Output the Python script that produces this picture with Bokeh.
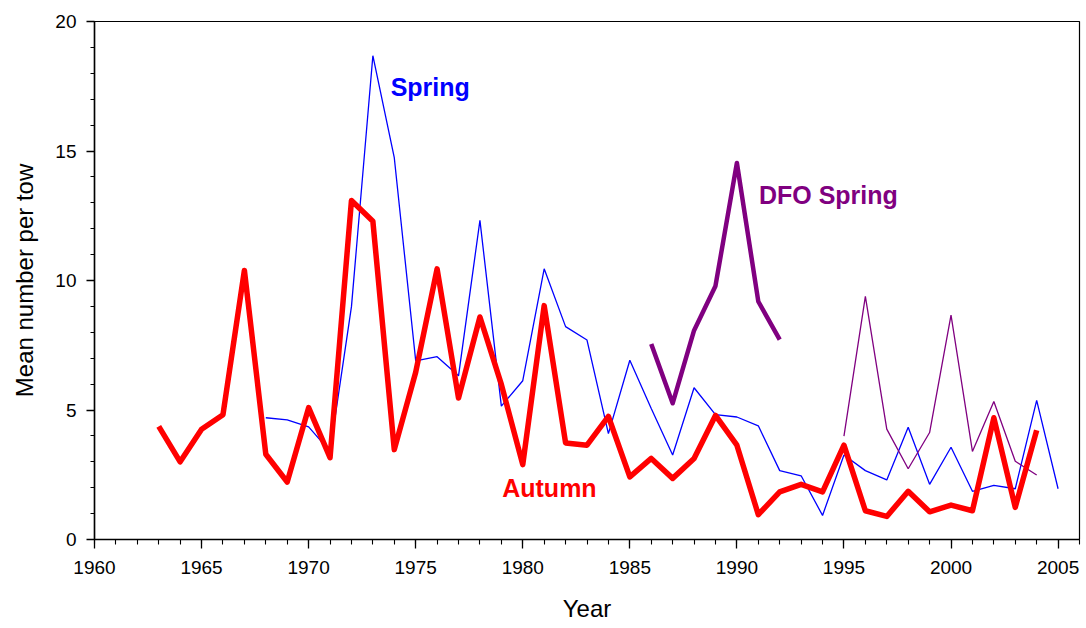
from bokeh.plotting import figure
from bokeh.models import Range1d, Label, SingleIntervalTicker
from bokeh.embed import file_html
from bokeh.resources import INLINE

# ---- data ----
autumn_years = list(range(1963, 2005))
autumn_vals = [4.37, 3.00, 4.26, 4.82, 10.39, 3.29, 2.22, 5.09, 3.16, 13.09,
               12.29, 3.47, 6.46, 10.45, 5.46, 8.59, 5.99, 2.89, 9.03, 3.73,
               3.64, 4.75, 2.42, 3.13, 2.36, 3.13, 4.79, 3.64, 0.96, 1.84,
               2.13, 1.84, 3.64, 1.11, 0.89, 1.86, 1.07, 1.33, 1.11, 4.70,
               1.24, 4.22]

spring_years = list(range(1968, 2006))
spring_vals = [4.70, 4.62, 4.35, 3.40, 8.99, 18.68, 14.74, 6.90, 7.06, 6.32,
               12.32, 5.15, 6.13, 10.45, 8.22, 7.70, 4.09, 6.92, 5.06, 3.26,
               5.86, 4.82, 4.73, 4.39, 2.66, 2.46, 0.93, 3.26, 2.66, 2.30,
               4.33, 2.13, 3.56, 1.86, 2.09, 1.96, 5.37, 1.96]

dfo_early_years = list(range(1986, 1993))
dfo_early_vals = [7.55, 5.26, 8.07, 9.79, 14.54, 9.19, 7.72]

dfo_late_years = list(range(1995, 2005))
dfo_late_vals = [3.99, 9.39, 4.26, 2.73, 4.13, 8.66, 3.40, 5.33, 3.02, 2.49]

x_range = (1960, 2006)
y_range = (0, 20)

# ---- figure ----
p = figure(width=1084, height=628, output_backend="svg", toolbar_location=None,
           x_range=Range1d(*x_range), y_range=Range1d(*y_range),
           min_border_left=94, min_border_right=5, min_border_top=21,
           min_border_bottom=89)
p.background_fill_color = "white"
p.border_fill_color = "white"
p.outline_line_color = "black"
p.outline_line_width = 1.2
p.xgrid.visible = False
p.ygrid.visible = False

FONT = "Liberation Sans"

p.xaxis.ticker = SingleIntervalTicker(interval=5, num_minor_ticks=5)
p.yaxis.ticker = SingleIntervalTicker(interval=5, num_minor_ticks=5)

for ax in (p.xaxis, p.yaxis):
    ax.axis_line_color = "black"
    ax.axis_line_width = 1.5
    ax.major_tick_line_color = "black"
    ax.minor_tick_line_color = "black"
    ax.major_tick_line_width = 1.3
    ax.minor_tick_line_width = 1.1
    ax.major_tick_in = 0
    ax.minor_tick_in = 0
    ax.major_label_text_font = FONT
    ax.major_label_text_font_size = "19px"
    ax.major_label_text_color = "black"
    ax.axis_label_text_font = FONT
    ax.axis_label_text_font_size = "24px"
    ax.axis_label_text_font_style = "normal"
    ax.axis_label_text_color = "black"

p.xaxis.major_tick_out = 9
p.xaxis.minor_tick_out = 5
p.yaxis.major_tick_out = 8
p.yaxis.minor_tick_out = 4
p.xaxis.major_label_standoff = 12
p.yaxis.major_label_standoff = 10
p.xaxis.axis_label = "Year"
p.yaxis.axis_label = "Mean number per tow"
p.xaxis.axis_label_standoff = 18
p.yaxis.axis_label_standoff = 14

# ---- lines ----
p.line(spring_years, spring_vals, line_color="#0000FF", line_width=1.3)
p.line(dfo_late_years, dfo_late_vals, line_color="#800080", line_width=1.3)
p.line(dfo_early_years, dfo_early_vals, line_color="#800080", line_width=4.5,
       line_join="round")
p.line(autumn_years, autumn_vals, line_color="#FF0000", line_width=5.5,
       line_join="round")

# ---- labels ----
for txt, x, y, col in [("Spring", 1973.83, 17.47, "#0000FF"),
                       ("DFO Spring", 1991.03, 13.3, "#800080"),
                       ("Autumn", 1979.04, 1.97, "#FF0000")]:
    p.add_layout(Label(x=x, y=y, text=txt, text_color=col, text_font=FONT,
                       text_font_size="25px", text_font_style="bold",
                       text_baseline="alphabetic", text_align="left"))

open("out.html", "w").write(file_html(p, INLINE))
